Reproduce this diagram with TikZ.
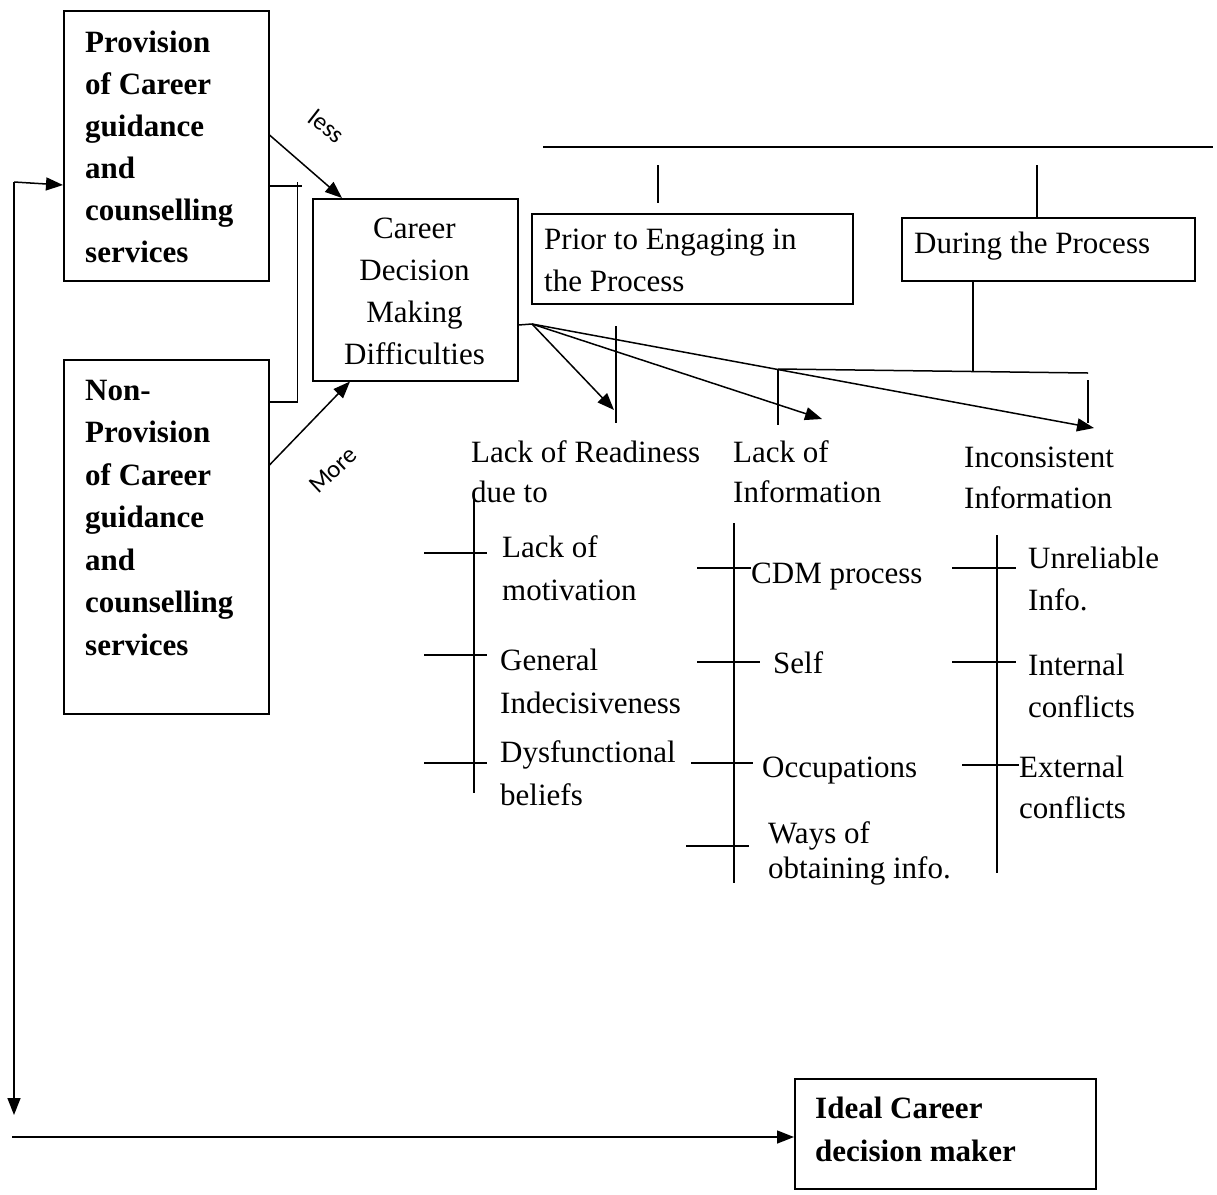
\documentclass[tikz,border=0pt]{standalone}
\usepackage{fontspec}
\setmainfont{Liberation Serif}
\newfontfamily\labelfont{Carlito}
\usetikzlibrary{arrows.meta,calc}
\begin{document}
\begin{tikzpicture}[x=1pt,y=-1pt,
  box/.style={draw, line width=1.5pt, inner sep=0pt, anchor=north west},
  txt/.style={anchor=base west, inner sep=0pt, align=left, font=\fontsize{31}{42}\selectfont},
  ctxt/.style={anchor=base, inner sep=0pt, align=center, font=\fontsize{31}{42}\selectfont},
  btxt/.style={txt, font=\fontsize{31}{42}\selectfont\bfseries},
  lbl/.style={inner sep=0pt, font=\fontsize{25}{25}\labelfont},
  ln/.style={line width=1.5pt},
  arr/.style={ln, -{Triangle[length=17pt,width=13pt]}},
]
\useasboundingbox (0,0) rectangle (1217,1194);

% boxes
\node[box, minimum width=205pt, minimum height=270pt] (A) at (63,10) {};
\node[box, minimum width=205pt, minimum height=354pt] (B) at (63,359) {};
\node[box, minimum width=205pt, minimum height=182pt] (C) at (312,198) {};
\node[box, minimum width=321pt, minimum height=90pt] (P) at (531,213) {};
\node[box, minimum width=293pt, minimum height=63pt] (D) at (901,217) {};
\node[box, minimum width=301pt, minimum height=110pt] (I) at (794,1078) {};

% box texts (anchored at the baseline of the last line)
\node[btxt] (At) at (85,262) {Provision\\of Career\\guidance\\and\\counselling\\services};
\node[btxt, font=\fontsize{31}{42.5}\selectfont\bfseries] (Bt) at (85,655) {Non-\\Provision\\of Career\\guidance\\and\\counselling\\services};
\node[ctxt] (Ct) at (414.5,364) {Career\\Decision\\Making\\Difficulties};
\node[txt] (Pt) at (544,291) {Prior to Engaging in\\the Process};
\node[txt] (Dt) at (914,253) {During the Process};
\node[btxt, font=\fontsize{31}{43}\selectfont\bfseries] (It) at (815,1161) {Ideal Career\\decision maker};

% less / more
\node[lbl, rotate=-38] (less) at (327,126) {less};
\node[lbl, rotate=43] (more) at (333,470) {More};
\draw[arr] ($(A.north east)+(0,125)$) -- ($(C.north west)+(30,0)$);
\draw[arr] ($(B.north east)+(0,106)$) -- ($(C.south west)+(38,0)$);

% bracket joining A and B
\draw[ln] ($(A.north east)+(0,176)$) -- ($(A.north east)+(32,176)$);
\draw[ln] ($(A.north east)+(28,172)$) -- ($(B.north east)+(28,43)$);
\draw[ln] ($(B.north east)+(0,43)$) -- ($(B.north east)+(28,43)$);

% feedback loop
\coordinate (fbTop) at (14,182);
\coordinate (fbBot) at (14,1115);
\coordinate (hStart) at (12,1137);
\draw[arr] (fbTop) -- ($(A.north west)+(0,175)$);
\draw[arr] (fbTop) -- (fbBot);
\draw[arr] (hStart) -- ($(I.north west)+(0,59)$);

% top structure
\coordinate (topL) at (543,147);
\coordinate (topR) at (1213,147);
\draw[ln] (topL) -- (topR);
\draw[ln] ($(P.north west)+(127,-48)$) -- ($(P.north west)+(127,-10)$);
\draw[ln] ($(D.north west)+(136,-52)$) -- ($(D.north west)+(136,0)$);

% lines below During
\coordinate (dJ) at (973,371);
\coordinate (hL) at (778,369);
\coordinate (hR) at (1088,373);
\draw[ln] ($(D.south west)+(72,0)$) -- (dJ);
\draw[ln] (hL) -- (hR);
\draw[ln] (hL) -- (778,425);
\draw[ln] (1088,380) -- (1088,423);
\draw[ln] (616,326) -- (616,423);

% fan of arrows
\coordinate (apex) at (532,324);
\draw[ln] ($(C.north east)+(0,127)$) -- (apex);
\draw[arr] (apex) -- (614,410);
\draw[arr] (apex) -- (822,419);
\draw[arr] (apex) -- (1094,428);

% category headings
\node[txt, font=\fontsize{31}{40}\selectfont] (R) at (471,502) {Lack of Readiness\\due to};
\node[txt, font=\fontsize{31}{40}\selectfont] (L) at (733,502) {Lack of\\Information};
\node[txt, font=\fontsize{31}{41}\selectfont] (N) at (964,508) {Inconsistent\\Information};

% readiness column
\draw[ln] (474,493) -- (474,793);
\foreach \yy in {553,655,763} \draw[ln] (424,\yy) -- (487,\yy);
\node[txt, font=\fontsize{31}{43}\selectfont] (r1) at (502,600) {Lack of\\motivation};
\node[txt, font=\fontsize{31}{43}\selectfont] (r2) at (500,713) {General\\Indecisiveness};
\node[txt, font=\fontsize{31}{43}\selectfont] (r3) at (500,805) {Dysfunctional\\beliefs};

% information column
\draw[ln] (734,523) -- (734,883);
\draw[ln] (697,568) -- (751,568);
\draw[ln] (697,662) -- (760,662);
\draw[ln] (691,763) -- (753,763);
\draw[ln] (686,846) -- (749,846);
\node[txt] (l1) at (751,583) {CDM process};
\node[txt] (l2) at (773,673) {Self};
\node[txt] (l3) at (762,777) {Occupations};
\node[txt, font=\fontsize{31}{35}\selectfont] (l4) at (768,878) {Ways of\\obtaining info.};

% inconsistent column
\draw[ln] (997,535) -- (997,873);
\draw[ln] (952,568) -- (1016,568);
\draw[ln] (952,662) -- (1016,662);
\draw[ln] (962,765) -- (1019,765);
\node[txt] (n1) at (1028,610) {Unreliable\\Info.};
\node[txt] (n2) at (1028,717) {Internal\\conflicts};
\node[txt, font=\fontsize{31}{41}\selectfont] (n3) at (1019,818) {External\\conflicts};
\end{tikzpicture}
\end{document}
